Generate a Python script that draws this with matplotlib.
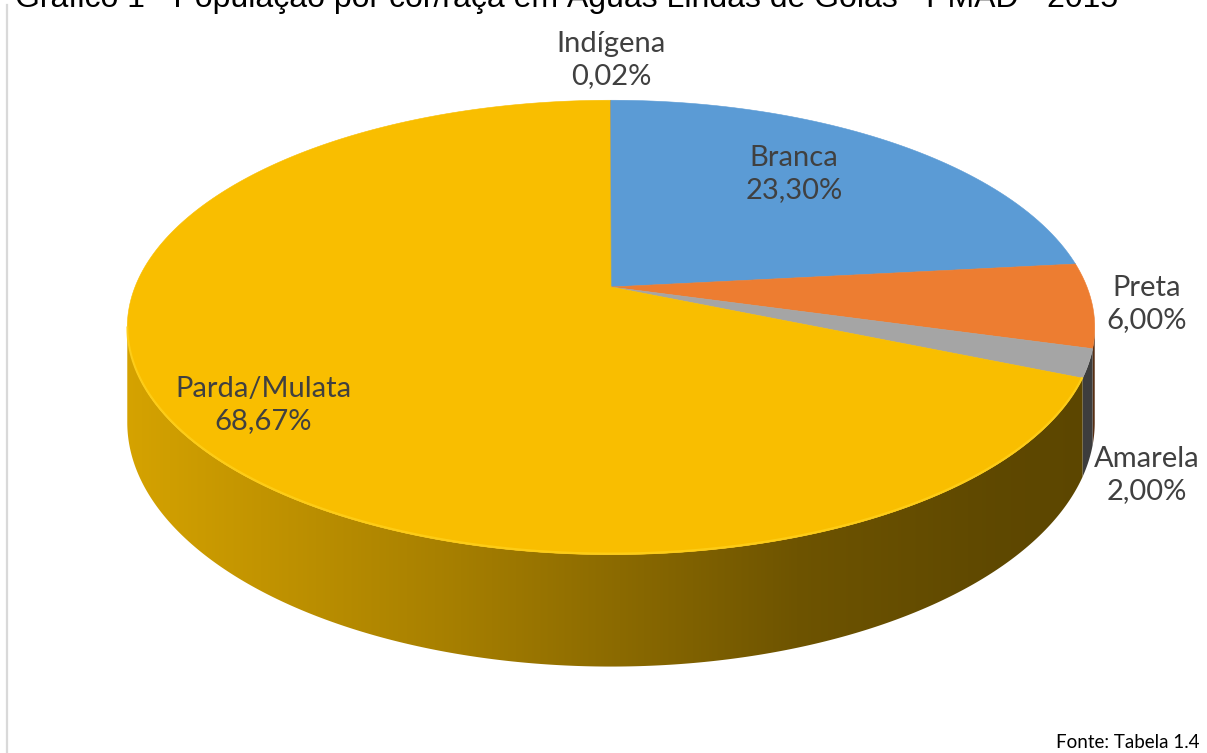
import numpy as np
import matplotlib
matplotlib.use("Agg")
import matplotlib.pyplot as plt
from matplotlib.transforms import Transform, Affine2D
from matplotlib.path import Path
from matplotlib.patches import Polygon
from matplotlib.lines import Line2D

# ---------------- data ----------------
title = "Gráfico 1 - População por cor/raça em Águas Lindas de Goiás - PMAD - 2015"
source = "Fonte: Tabela 1.4"
categories = ["Branca", "Preta", "Amarela", "Parda/Mulata", "Indígena"]
values = [23.30, 6.00, 2.00, 68.67, 0.02]
colors = ["#5B9BD5", "#ED7D31", "#A5A5A5", "#F9BE00", "#4472C4"]

# ---------------- layout / style ----------------
W, H = 1207, 753
CX, CY = 611, 287          # projected centre of the pie top (pixels)
S, SK, P = 476, 220, 0.178  # horizontal scale, vertical scale, perspective
DEPTH = 92                  # side height (pixels, before perspective)
SHADE_X = [120, 450, 617, 800, 1000, 1100]
SHADE_F = [0.86, 0.67, 0.56, 0.44, 0.38, 0.37]
label_pos = {"Branca": (794, 174), "Preta": (1147, 304), "Amarela": (1147, 475),
             "Parda/Mulata": (263, 405), "Indígena": (611, 60)}
LABEL_FONT = ["Lato", "DejaVu Sans"]


class Perspective(Transform):
    input_dims = output_dims = 2
    is_separable = False
    has_inverse = False

    def __init__(self, dz=0.0):
        super().__init__()
        self.dz = dz

    def transform_non_affine(self, values):
        values = np.asarray(values, float)
        u, v = values[:, 0], values[:, 1]
        w = 1 + P * v
        return np.column_stack([CX + S * u / w, CY - SK * v / w + self.dz / w])

    def transform_path_non_affine(self, path):
        polys = path.to_polygons(transform=Affine2D().scale(2000), closed_only=False)
        vs, cs = [], []
        for poly in polys:
            poly = np.asarray(poly) / 2000.0
            dense = [poly[0]]
            for a, b in zip(poly[:-1], poly[1:]):
                n = max(1, int(np.hypot(*(b - a)) * 200))
                t = np.linspace(0, 1, n + 1)[1:]
                dense.extend(a + (b - a) * t[:, None])
            dense = np.array(dense)
            vs.append(self.transform_non_affine(dense))
            cs += [Path.MOVETO] + [Path.LINETO] * (len(dense) - 1)
        return Path(np.concatenate(vs), cs)


fig = plt.figure(figsize=(W / 100, H / 100), dpi=100)
ax = fig.add_axes([0, 0, 1, 1])

wedges, _ = ax.pie(values, colors=colors, startangle=90, counterclock=False,
                   radius=1, center=(0, 0), wedgeprops=dict(linewidth=0.4))
top_tr = Perspective(0.0)
for w, val in zip(wedges, values):
    w.set_transform(top_tr + ax.transData)
    w.set_edgecolor(w.get_facecolor())
    if val < 0.5:
        w.set_linewidth(0)
    w.set_zorder(3)

# ---------------- sides ----------------
a = np.degrees(np.arcsin(P))
vis = (180 + a, 360 - a)
bot_tr = Perspective(DEPTH)
for w, col in zip(wedges, colors):
    t1, t2 = w.theta1, w.theta2
    for k in (-1, 0, 1):
        lo = max(t1, vis[0] + 360 * k)
        hi = min(t2, vis[1] + 360 * k)
        if hi <= lo:
            continue
        th = np.radians(np.linspace(lo, hi, 300))
        pts = np.column_stack([np.cos(th), np.sin(th)])
        top = top_tr.transform(pts)
        bot = bot_tr.transform(pts)
        poly = np.vstack([top, bot[::-1]])
        patch = Polygon(poly, closed=True, facecolor="none", edgecolor="none")
        ax.add_patch(patch)
        x0, x1 = poly[:, 0].min() - 2, poly[:, 0].max() + 2
        y0, y1 = poly[:, 1].min() - 2, poly[:, 1].max() + 2
        n = int(x1 - x0) + 2
        xs = np.linspace(x0, x1, n)
        f = np.interp(xs, SHADE_X, SHADE_F)
        base = np.array(matplotlib.colors.to_rgb(col))
        img = np.clip(base[None, None, :] * f[None, :, None], 0, 1)
        im = ax.imshow(img, extent=(x0, x1, y1, y0), aspect="auto",
                       interpolation="bilinear", zorder=2)
        im.set_clip_path(patch)
        # subtle bevel highlight along the front edge of the top face
        if col == "#F9BE00":
            ax.plot(top[:, 0], top[:, 1] - 1, color="#FFD21F", lw=1.6,
                    alpha=0.7, zorder=4, solid_capstyle="butt")

# ---------------- labels ----------------
for cat, val in zip(categories, values):
    x, y = label_pos[cat]
    txt = f"{cat}\n{val:.2f}%".replace(".", ",")
    ax.text(x, y, txt, ha="center", va="center", fontsize=21,
            family=LABEL_FONT, color="#404040", linespacing=1.3, zorder=6)

ax.set_xlim(0, W)
ax.set_ylim(H, 0)
ax.set_aspect("auto")
ax.axis("off")

# chart frame (left edge visible)
fig.add_artist(Line2D([7 / W, 7 / W], [0, 1 - 5 / H], color="#D9D9D9", lw=1.6,
                      transform=fig.transFigure))

fig.text(15 / W, 1 - 7 / H, title, ha="left", va="baseline", fontsize=23,
         family=["Liberation Sans", "DejaVu Sans"], color="black")
fig.text(1199 / W, 1 - 748 / H, source, ha="right", va="baseline", fontsize=13.5,
         family=LABEL_FONT, color="black")

fig.savefig("out.png", dpi=100)
